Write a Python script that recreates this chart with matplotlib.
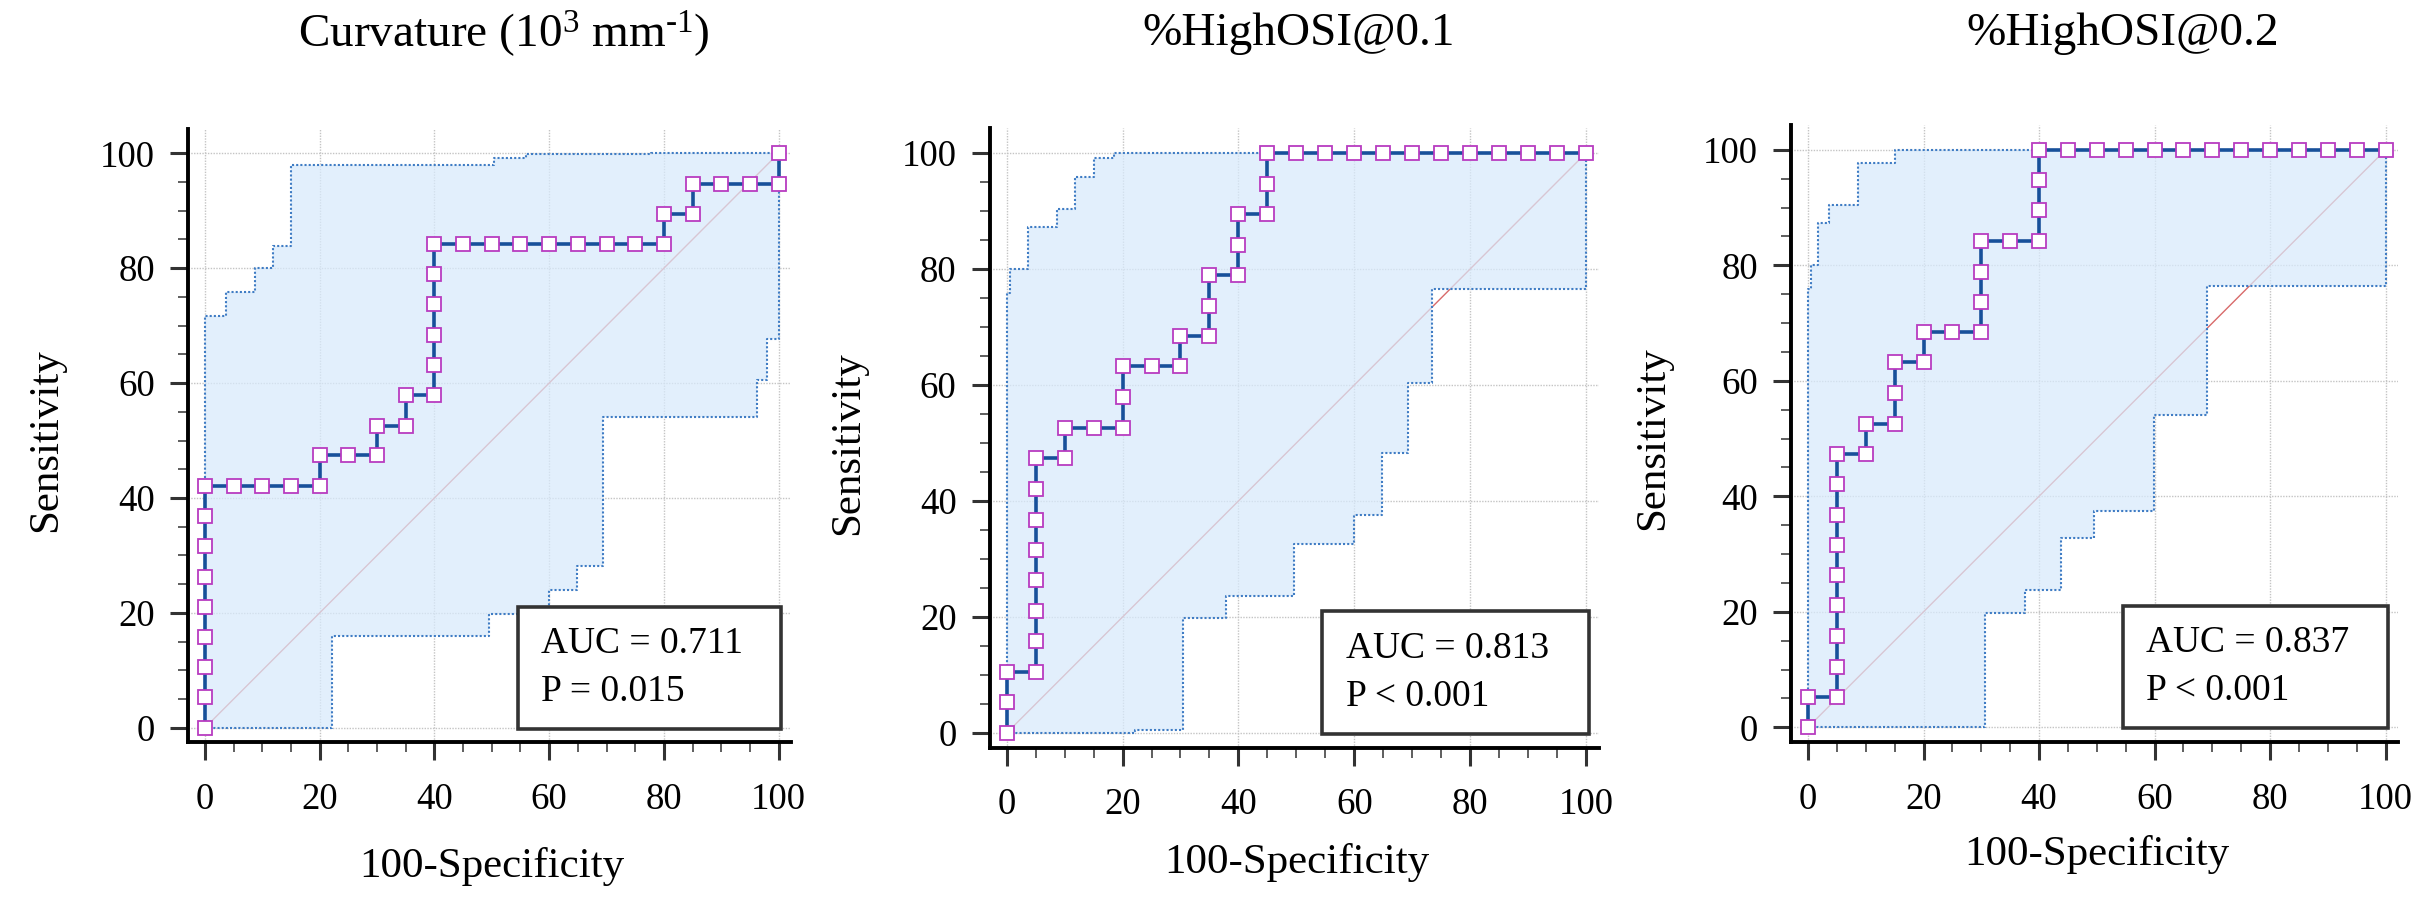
import matplotlib
matplotlib.use("Agg")
import matplotlib.pyplot as plt
from matplotlib.ticker import MultipleLocator
from matplotlib.patches import Rectangle

plt.rcParams["font.family"] = ["Liberation Serif", "DejaVu Serif"]
plt.rcParams["mathtext.fontset"] = "custom"
plt.rcParams["mathtext.rm"] = "Liberation Serif"
plt.rcParams["mathtext.it"] = "Liberation Serif:italic"

# --- data (100-Specificity, Sensitivity in %) ---
titles = [r"Curvature (10$^{3}$ mm$^{\text{-1}}$)", "%HighOSI@0.1", "%HighOSI@0.2"]
auc_labels = ["AUC = 0.711", "AUC = 0.813", "AUC = 0.837"]
p_labels = ["P = 0.015", "P < 0.001", "P < 0.001"]

fpr1 = [0, 0, 0, 0, 0, 0, 0, 0, 0, 5, 10, 15, 20, 20, 25, 30, 30, 35, 35, 40,
        40, 40, 40, 40, 40, 45, 50, 55, 60, 65, 70, 75, 80, 80, 85, 85, 90, 95, 100, 100]
sens1 = [0, 5.3, 10.5, 15.8, 21.1, 26.3, 31.6, 36.8, 42.1, 42.1, 42.1, 42.1, 42.1,
         47.4, 47.4, 47.4, 52.6, 52.6, 57.9, 57.9, 63.2, 68.4, 73.7, 78.9, 84.2,
         84.2, 84.2, 84.2, 84.2, 84.2, 84.2, 84.2, 84.2, 89.5, 89.5, 94.7, 94.7, 94.7, 94.7, 100]
upper1_x = [0, 0, 3.6, 8.7, 11.8, 15.0, 50.3, 56.0, 77.7, 100]
upper1_y = [0, 71.6, 75.9, 80.0, 83.9, 97.9, 99.1, 99.9, 100, 100]
lower1_x = [0, 22.2, 49.5, 60.0, 64.8, 69.3, 96.2, 97.9, 100]
lower1_y = [0, 16.0, 19.8, 23.9, 28.2, 54.1, 60.5, 67.7, 100]

fpr2 = [0, 0, 0, 5, 5, 5, 5, 5, 5, 5, 5, 10, 10, 15, 20, 20, 20, 25, 30, 30,
        35, 35, 35, 40, 40, 40, 45, 45, 45, 50, 55, 60, 65, 70, 75, 80, 85, 90, 95, 100]
sens2 = [0, 5.3, 10.5, 10.5, 15.8, 21.1, 26.3, 31.6, 36.8, 42.1, 47.4, 47.4, 52.6,
         52.6, 52.6, 57.9, 63.2, 63.2, 63.2, 68.4, 68.4, 73.7, 78.9, 78.9, 84.2, 89.5,
         89.5, 94.7, 100, 100, 100, 100, 100, 100, 100, 100, 100, 100, 100, 100]
upper2_x = [0, 0, 0.6, 3.7, 8.7, 11.8, 15.0, 18.5, 100]
upper2_y = [0, 75.9, 80.0, 87.3, 90.4, 95.9, 99.1, 100, 100]
lower2_x = [0, 22.2, 30.5, 37.8, 49.6, 60.0, 64.7, 69.3, 73.5, 100]
lower2_y = [0, 0.6, 19.9, 23.7, 32.6, 37.6, 48.2, 60.4, 76.5, 100]

fpr3 = [0, 0, 5, 5, 5, 5, 5, 5, 5, 5, 5, 10, 10, 15, 15, 15, 20, 20, 25, 30,
        30, 30, 30, 35, 40, 40, 40, 40, 45, 50, 55, 60, 65, 70, 75, 80, 85, 90, 95, 100]
sens3 = [0, 5.3, 5.3, 10.5, 15.8, 21.1, 26.3, 31.6, 36.8, 42.1, 47.4, 47.4, 52.6,
         52.6, 57.9, 63.2, 63.2, 68.4, 68.4, 68.4, 73.7, 78.9, 84.2, 84.2, 84.2, 89.5,
         94.7, 100, 100, 100, 100, 100, 100, 100, 100, 100, 100, 100, 100, 100]
upper3_x = [0, 0, 0.6, 1.8, 3.7, 8.7, 15.0, 100]
upper3_y = [0, 75.9, 80.0, 87.3, 90.5, 97.8, 100, 100]
lower3_x = [0, 30.6, 37.6, 43.8, 49.6, 59.9, 69.1, 100]
lower3_y = [0, 19.8, 23.8, 32.7, 37.5, 54.1, 76.5, 100]

panels = [
    (fpr1, sens1, upper1_x, upper1_y, lower1_x, lower1_y),
    (fpr2, sens2, upper2_x, upper2_y, lower2_x, lower2_y),
    (fpr3, sens3, upper3_x, upper3_y, lower3_x, lower3_y),
]

# --- layout (pixel calibration of each panel: x=0, x=100, y=0, y=100) ---
W, H = 2425, 909
calib = [(205, 778.6, 727.7, 153.3), (1006.7, 1586, 733, 153), (1808, 2385.6, 727.3, 149.8)]
title_pos = [(504, 34), (1299, 34), (2123, 34)]
xlabel_y = [867, 862, 855]
ylabel_x = [46, 848, 1653]
XL = (-2.9, 102.2)
YL = (-2.5, 104.3)


def step_vertices(xs, ys):
    vx, vy = [xs[0]], [ys[0]]
    for i in range(1, len(xs)):
        vx += [xs[i], xs[i]]
        vy += [ys[i - 1], ys[i]]
    return vx, vy


fig = plt.figure(figsize=(W / 100, H / 100), dpi=100)

for i, (fpr, sens, ux, uy, lx, ly) in enumerate(panels):
    x0, x100, y0, y100 = calib[i]
    sx = (x100 - x0) / 100
    sy = (y0 - y100) / 100
    left = x0 + XL[0] * sx
    right = x0 + XL[1] * sx
    bottom = y0 - YL[0] * sy
    top = y0 - YL[1] * sy
    ax = fig.add_axes([left / W, 1 - bottom / H, (right - left) / W, (bottom - top) / H])
    ax.set_xlim(*XL)
    ax.set_ylim(*YL)

    # confidence band
    uvx, uvy = step_vertices(ux, uy)
    lvx, lvy = step_vertices(lx, ly)
    ax.plot([0, 100], [0, 100], color="#d86a6a", lw=1.0, zorder=1)
    ax.fill(uvx + lvx[::-1], uvy + lvy[::-1], color="#d8eafc", alpha=0.72, lw=0, zorder=1.5)
    ax.plot(uvx, uvy, color="#3f7cc4", lw=1.5, ls=(0, (1, 1)), zorder=2)
    ax.plot(lvx, lvy, color="#3f7cc4", lw=1.5, ls=(0, (1, 1)), zorder=2)

    # ROC curve
    ax.plot(fpr, sens, color="#17509a", lw=2.6, zorder=3,
            marker="s", ms=10.5, mfc="white", mec="#b83cc0", mew=1.3)

    # AUC box
    ax.add_patch(Rectangle((54.5, -0.2), 46, 21.2, facecolor="white",
                           edgecolor="#333333", lw=2.6, zorder=5))
    ax.text(58.5, 14.6, auc_labels[i], fontsize=27, va="center", ha="left", zorder=6)
    ax.text(58.5, 6.3, p_labels[i], fontsize=27, va="center", ha="left", zorder=6)

    # axes styling
    for s in ["top", "right"]:
        ax.spines[s].set_visible(False)
    for s in ["left", "bottom"]:
        ax.spines[s].set_linewidth(2.8)
        ax.spines[s].set_color("black")
    ax.xaxis.set_major_locator(MultipleLocator(20))
    ax.yaxis.set_major_locator(MultipleLocator(20))
    ax.xaxis.set_minor_locator(MultipleLocator(5))
    ax.yaxis.set_minor_locator(MultipleLocator(5))
    ax.tick_params(which="major", length=13, width=2.2, color="#333333", labelsize=26.5)
    ax.tick_params(which="minor", length=7, width=1.1, color="#333333")
    ax.tick_params(axis="x", which="major", pad=16)
    ax.tick_params(axis="y", which="major", pad=11)
    ax.grid(True, which="major", color="#c4c4c4", lw=1.0, ls=(0, (1, 1)))
    ax.set_axisbelow(True)

    ax.set_xlabel("100-Specificity", fontsize=31)
    ax.xaxis.label.set_va("center")
    ax.xaxis.set_label_coords((x0 + 50 * sx) / W, 1 - xlabel_y[i] / H, transform=fig.transFigure)
    ax.set_ylabel("Sensitivity", fontsize=31)
    ax.yaxis.label.set_va("center")
    ax.yaxis.set_label_coords(ylabel_x[i] / W, 1 - (y0 - 50 * sy) / H, transform=fig.transFigure)

    tx, ty = title_pos[i]
    fig.text(tx / W, 1 - ty / H, titles[i], fontsize=34, ha="center", va="center")

fig.savefig("out.png", dpi=100)
